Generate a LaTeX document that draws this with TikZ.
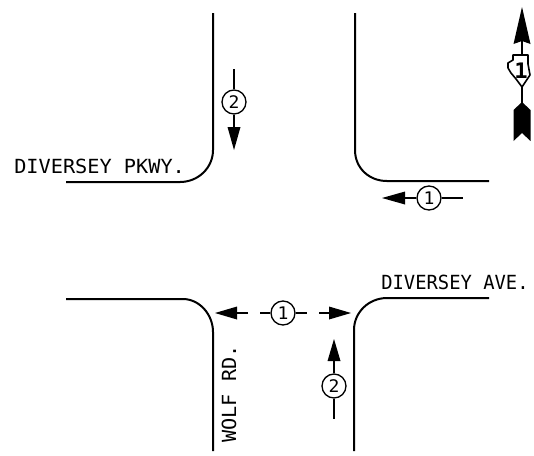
\documentclass[tikz,border=0pt]{standalone}
\usepackage{fontspec}
\setmainfont[FakeStretch=1.04]{DejaVu Sans Mono}
\tikzset{
 road/.style={line width=1.5pt,line join=round},
 lead/.style={line width=1pt},
 badge/.style={circle,draw,line width=1pt,inner sep=0pt,minimum size=18pt,font=\fontsize{13}{13}\selectfont},
 label/.style={inner sep=0pt,font=\fontsize{14.6}{15}\selectfont},
 head/.style={fill=black,draw=none}
}
\begin{document}
\begin{tikzpicture}[x=0.75pt,y=-0.75pt]
\useasboundingbox (0,0) rectangle (534,455);
% roads
\draw[road] (213,13) -- (213,150) .. controls (213,168) and (198,182) .. (180,182) -- (66,182);
\draw[road] (355,13) -- (355,150) .. controls (355,168) and (369,181) .. (387,181) -- (489,181);
\draw[road] (66,299) -- (183,299) .. controls (199,299) and (213,314) .. (213,332) -- (213,451);
\draw[road] (354,451) -- (354,330) .. controls (354,312) and (369,298) .. (387,298) -- (489,298);
% labels
\node[label,anchor=base west] (pkwy) at (14,173) {DIVERSEY PKWY.};
\node[label,anchor=base west,xscale=0.93] (ave) at (381,289) {DIVERSEY AVE.};
\node[label,anchor=base west,rotate=90] (wolf) at (236,443) {WOLF RD.};
% phase 2 top
\node[badge] (a2) at (234,102) {2};
\coordinate (a2t) at (234,69);
\coordinate (a2h) at (234,128);
\draw[lead] (a2t) -- (a2);
\draw[lead] (a2) -- (a2h);
\fill[head] (227.5,127) -- (240.5,127) -- (234,150) -- cycle;
% phase 1 top
\node[badge] (b1) at (429,198) {1};
\coordinate (b1e) at (463,198);
\coordinate (b1h) at (404,198);
\draw[lead] (b1) -- (b1e);
\draw[lead] (b1) -- (b1h);
\fill[head] (405,191.5) -- (405,204.5) -- (382,198) -- cycle;
% phase 1 bottom
\node[badge] (c1) at (283,313) {1};
\coordinate (c1l) at (260,313);
\coordinate (c1r) at (307,313);
\coordinate (c1a) at (248,313);
\coordinate (c1b) at (236,313);
\coordinate (c1c) at (319,313);
\coordinate (c1d) at (330,313);
\draw[lead] (c1l) -- (c1);
\draw[lead] (c1) -- (c1r);
\draw[lead] (c1a) -- (c1b);
\draw[lead] (c1c) -- (c1d);
\fill[head] (237,306.5) -- (237,319.5) -- (215,313) -- cycle;
\fill[head] (329,306.5) -- (329,319.5) -- (351,313) -- cycle;
% phase 2 bottom
\node[badge] (d2) at (334,386) {2};
\coordinate (d2b) at (334,419);
\coordinate (d2h) at (334,360);
\draw[lead] (d2) -- (d2b);
\draw[lead] (d2) -- (d2h);
\fill[head] (327.5,361) -- (340.5,361) -- (334,339) -- cycle;
% north arrow
\draw[lead] (522,40) -- (522,55);
\draw[lead] (522,86) -- (522,104);
\fill[head] (522,7) -- (530.5,44) -- (522,41) -- (513.5,44) -- cycle;
\fill[head] (522,102) -- (530.5,110) -- (530.5,141) -- (522,133) -- (513.5,141) -- (513.5,110) -- cycle;
\draw[line width=1.2pt,line join=round] (513,55) -- (528,55) -- (528,64) -- (530,75) -- (526,81) -- (522,87) -- (516,79) -- (511,73) -- (508,68) -- (508,63) -- (513,60) -- cycle;
\node[inner sep=0pt,font=\fontsize{16}{16}\selectfont\bfseries] (rt) at (521,71) {1};
\end{tikzpicture}
\end{document}
